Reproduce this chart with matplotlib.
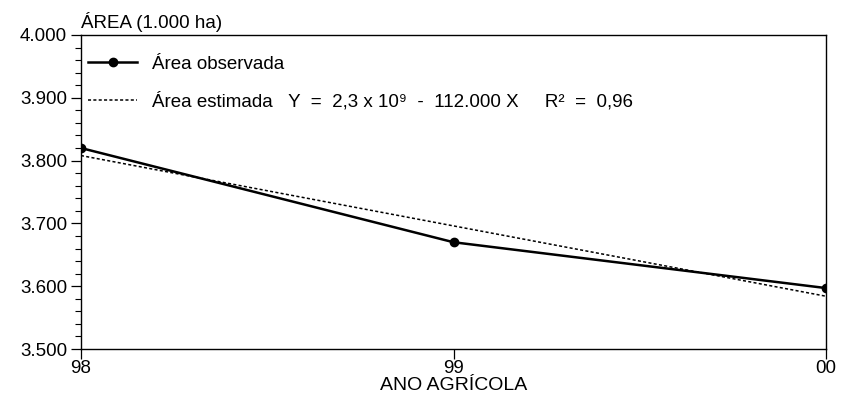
import numpy as np
import matplotlib
matplotlib.use('Agg')
import matplotlib.pyplot as plt
from matplotlib.ticker import MultipleLocator, FuncFormatter

plt.rcParams['font.family'] = ['Liberation Sans', 'DejaVu Sans']

# data
anos = ['98', '99', '00']
area_obs = [3820, 3670, 3597]
area_est = [3808, 3696, 3584]

fig = plt.figure(figsize=(8.43, 4.16), dpi=100)
ax = fig.add_axes([0.096, 0.161, 0.884, 0.755])

x = np.arange(len(anos))
ax.plot(x, area_obs, color='black', lw=1.8, marker='o', ms=6,
        label='Área observada')
ax.plot(x, area_est, color='black', lw=1.1, ls=(0, (2, 1.5)),
        label='Área estimada   Y  =  2,3 x 10⁹  -  112.000 X     R²  =  0,96')

ax.set_xlim(0, 2)
ax.set_ylim(3500, 4000)
ax.set_xticks(x)
ax.set_xticklabels(anos)
ax.yaxis.set_major_locator(MultipleLocator(100))
ax.yaxis.set_minor_locator(MultipleLocator(20))
ax.yaxis.set_major_formatter(FuncFormatter(lambda v, p: f'{v/1000:.3f}'))
ax.tick_params(axis='both', which='major', direction='out', length=7,
               width=0.9, labelsize=13.5, pad=3)
ax.tick_params(axis='y', which='minor', direction='out', length=4, width=0.8)
ax.tick_params(axis='x', pad=1)
for s in ax.spines.values():
    s.set_linewidth(1.0)

ax.set_xlabel('ANO AGRÍCOLA', fontsize=14, labelpad=0)
ax.text(0.0, 1.01, 'ÁREA (1.000 ha)', transform=ax.transAxes,
        fontsize=13.5, ha='left', va='bottom')

ax.legend(loc='upper left', frameon=False, fontsize=13.5,
          handlelength=2.6, handletextpad=0.8, labelspacing=1.05,
          bbox_to_anchor=(-0.005, 0.97), borderaxespad=0.2)

fig.savefig('out.png', dpi=100)
